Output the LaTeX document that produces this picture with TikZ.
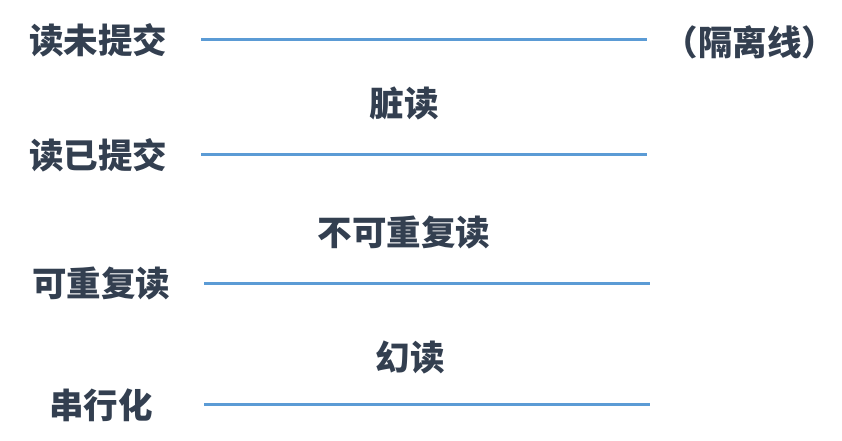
\documentclass[tikz,border=0pt]{standalone}
\usepackage{fontspec}
\newfontfamily\cjk{Noto Sans CJK SC}
\usepackage{tikz}
\definecolor{mytext}{RGB}{51, 63, 80}
\definecolor{myblue}{RGB}{91, 155, 213}
\begin{document}
\begin{tikzpicture}[
    x = 1pt, y = -1pt,
    lvl/.style = {font = \cjk\bfseries\fontsize{34.5}{40}\selectfont, text = mytext, inner sep = 0pt},
    gap/.style = {font = \cjk\bfseries\fontsize{34.5}{40}\selectfont, text = mytext, inner sep = 0pt},
    d0/.style = {line width = 3pt, draw = myblue},
]
\useasboundingbox (0,0) rectangle (842,441);

% levels
\node[lvl] (ru) at (98,40) {读未提交};
\node[lvl] (rc) at (98,155) {读已提交};
\node[lvl] (rr) at (101,283) {可重复读};
\node[lvl] (se) at (101,405) {串行化};
\node[lvl] (iso) at (750,42) {（隔离线）};

% isolation lines
\coordinate (ru1) at (201,40);   \coordinate (ru2) at (647,40);
\coordinate (rc1) at (201,154);  \coordinate (rc2) at (647,154);
\coordinate (rr1) at (204,283);  \coordinate (rr2) at (650,283);
\coordinate (se1) at (204,404);  \coordinate (se2) at (650,404);
\draw[d0] (ru1) -- (ru2);
\draw[d0] (rc1) -- (rc2);
\draw[d0] (rr1) -- (rr2);
\draw[d0] (se1) -- (se2);

% anomalies
\node[gap] (dirty) at (404,103) {脏读};
\node[gap] (nonrep) at (404,232) {不可重复读};
\node[gap] (phantom) at (410,357) {幻读};
\end{tikzpicture}
\end{document}
